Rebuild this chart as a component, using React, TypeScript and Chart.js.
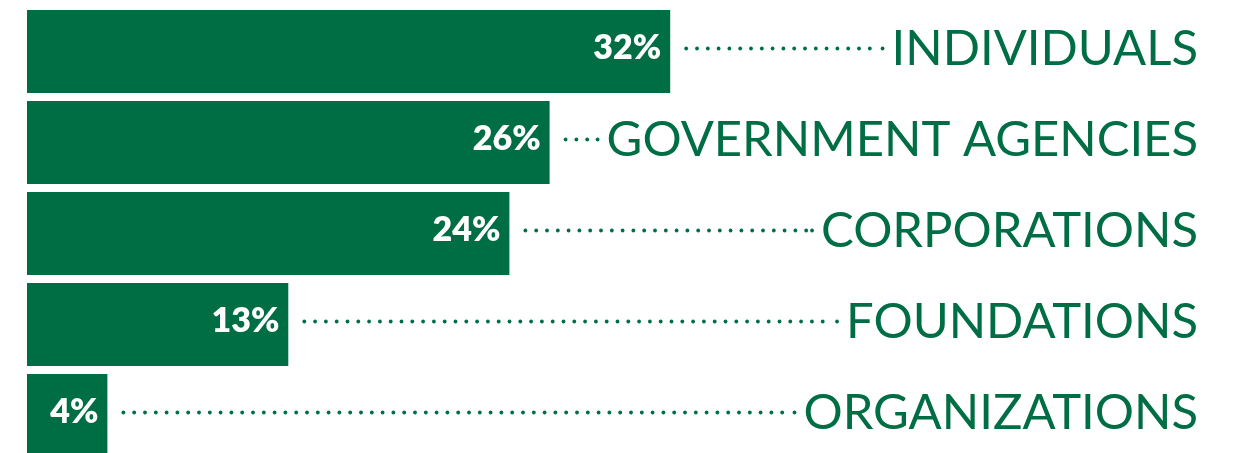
import React, { useEffect, useRef } from "react";
import { Chart, registerables } from "chart.js";

Chart.register(...registerables);

const categories = ["INDIVIDUALS", "GOVERNMENT AGENCIES", "CORPORATIONS", "FOUNDATIONS", "ORGANIZATIONS"];
const shares = [32, 26, 24, 13, 4];

const GREEN = "#006e44";

const labelPlugin = {
  id: "labelPlugin",
  afterDatasetsDraw(chart: any) {
    const { ctx, chartArea } = chart;
    const meta = chart.getDatasetMeta(0);
    const labelRight = chartArea.right - 35;
    ctx.save();
    meta.data.forEach((bar: any, i: number) => {
      const y = bar.y;
      // value label
      ctx.font = "800 34px Lato";
      ctx.fillStyle = "#ffffff";
      ctx.textAlign = "right";
      ctx.textBaseline = "middle";
      ctx.fillText(`${shares[i]}%`, bar.x - 9, y - 3);
      // category label
      ctx.font = "400 49px Lato";
      ctx.fillStyle = GREEN;
      ctx.textAlign = "right";
      ctx.fillText(categories[i], labelRight, y - 2);
      const w = ctx.measureText(categories[i]).width;
      const dotEnd = labelRight - w - 9;
      const dotStart = bar.x + 16;
      const dy = y - 3;
      ctx.fillStyle = GREEN;
      const step = 10.8;
      for (let dx = dotStart; dx <= dotEnd - 4; dx += step) {
        ctx.beginPath();
        ctx.arc(dx, dy, 1.9, 0, Math.PI * 2);
        ctx.fill();
      }
      ctx.beginPath();
      ctx.arc(dotEnd, dy, 1.9, 0, Math.PI * 2);
      ctx.fill();
    });
    ctx.restore();
  },
};

export default function App() {
  const ref = useRef<HTMLCanvasElement | null>(null);
  useEffect(() => {
    if (!ref.current) return;
    const chart = new Chart(ref.current, {
      type: "bar",
      data: {
        labels: categories,
        datasets: [
          {
            data: shares,
            backgroundColor: GREEN,
            borderWidth: 0,
            barPercentage: 0.912,
            categoryPercentage: 1,
          },
        ],
      },
      options: {
        indexAxis: "y",
        responsive: false,
        animation: false,
        devicePixelRatio: 1,
        layout: { padding: { left: 27, right: 1, top: 6, bottom: 9 } },
        plugins: { legend: { display: false }, tooltip: { enabled: false } },
        scales: {
          x: { display: false, min: 0, max: 60 },
          y: { display: false },
        },
      },
      plugins: [labelPlugin],
    });
    return () => chart.destroy();
  }, []);
  return (
    <div style={{ position: "fixed", left: 0, top: 0, width: 1234, height: 453, overflow: "hidden", background: "#fff" }}>
      <canvas ref={ref} width={1234} height={470} style={{ display: "block" }} />
    </div>
  );
}
